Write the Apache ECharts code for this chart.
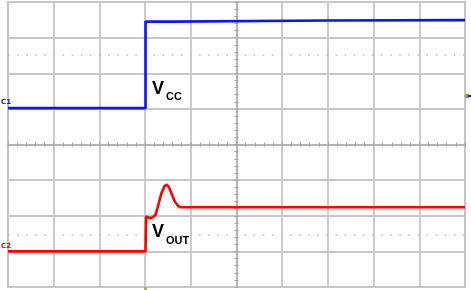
<!DOCTYPE html>
<html>
<head>
<meta charset="utf-8">
<script src="https://cdn.jsdelivr.net/npm/echarts@6/dist/echarts.min.js"></script>
<style>
html,body{margin:0;padding:0;background:#fff;}
#chart{width:471px;height:290px;}
</style>
</head>
<body>
<div id="chart"></div>
<script>
// Oscilloscope capture, units in divisions (x: -5..5, y: -4..4)
var vccTime  = [-5, -1.99, -1.99, -1.4, -1.38, 2, 5];
var vccVolts = [1.02, 1.02, 3.45, 3.45, 3.47, 3.48, 3.49];

var outTime  = [-5, -1.99, -1.98, -1.94, -1.885, -1.83, -1.77, -1.72, -1.644, -1.572, -1.52, -1.477, -1.425, -1.35, -1.28, -1.23, 5];
var outVolts = [-3.0, -3.0, -2.02, -2.0, -2.07, -2.04, -1.97, -1.74, -1.37, -1.16, -1.13, -1.20, -1.37, -1.60, -1.72, -1.76, -1.76];

var cursorLevels = [2.52, -2.52];
var seriesNames = ['VCC', 'VOUT'];

function pairs(xs, ys) { return xs.map(function (x, i) { return [x, ys[i]]; }); }

var gridCol = '#c6c6c6';
var axisCol = '#b4b4b4';
var dotStyle = { color: '#bdbdbd', width: 1.5, type: [1.5, 7.6] };

function xAx(pos, split) {
  return {
    type: 'value', min: -5, max: 5, interval: 1, position: pos,
    axisLabel: { show: false },
    axisLine: { show: true, onZero: true, onZeroAxisIndex: 0, lineStyle: { color: axisCol, width: 1.8 } },
    axisTick: { show: true, length: 2, lineStyle: { color: '#a0a0a0' } },
    minorTick: { show: true, splitNumber: 5, length: 2, lineStyle: { color: '#a0a0a0' } },
    splitLine: { show: split, lineStyle: { color: gridCol, width: 1.8 } }
  };
}
function yAx(pos, split) {
  return {
    type: 'value', min: -4, max: 4, interval: 1, position: pos,
    axisLabel: { show: false },
    axisLine: { show: true, onZero: true, onZeroAxisIndex: 0, lineStyle: { color: axisCol, width: 1.8 } },
    axisTick: { show: true, length: 2, lineStyle: { color: '#a0a0a0' } },
    minorTick: { show: true, splitNumber: 5, length: 2, lineStyle: { color: '#a0a0a0' } },
    splitLine: { show: split, lineStyle: { color: gridCol, width: 1.8 } }
  };
}

var chart = echarts.init(document.getElementById('chart'), null, { renderer: 'canvas' });
chart.setOption({
  animation: false,
  backgroundColor: '#ffffff',
  grid: { left: 8, right: 6, top: 2, bottom: 3, show: true, borderColor: '#b0b0b0', borderWidth: 2, containLabel: false },
  xAxis: [xAx('bottom', true), xAx('top', false)],
  yAxis: [yAx('left', true), yAx('right', false)],
  series: [
    {
      name: seriesNames[0], type: 'line', xAxisIndex: 0, yAxisIndex: 0,
      data: pairs(vccTime, vccVolts), showSymbol: false, symbol: 'none',
      lineStyle: { color: '#0a14ff', width: 2.6 }, z: 5,
      markLine: { silent: true, symbol: 'none', label: { show: false }, lineStyle: dotStyle,
        data: [{ yAxis: cursorLevels[0] }] }
    },
    {
      name: seriesNames[1], type: 'line', xAxisIndex: 0, yAxisIndex: 0,
      data: pairs(outTime, outVolts), showSymbol: false, symbol: 'none',
      lineStyle: { color: '#ff0000', width: 2.6 }, z: 5,
      markLine: { silent: true, symbol: 'none', label: { show: false }, lineStyle: dotStyle,
        data: [{ yAxis: cursorLevels[1] }] }
    }
  ],
  graphic: [
    { type: 'text', left: 152, top: 80, style: { text: 'V', font: 'bold 18px "Liberation Sans", Arial', fill: '#000' }, z: 10 },
    { type: 'text', left: 166, top: 91, style: { text: 'CC', font: 'bold 11px "Liberation Sans", Arial', fill: '#000' }, z: 10 },
    { type: 'text', left: 152, top: 223, style: { text: 'V', font: 'bold 18px "Liberation Sans", Arial', fill: '#000' }, z: 10 },
    { type: 'text', left: 166, top: 235, style: { text: 'OUT', font: 'bold 11px "Liberation Sans", Arial', fill: '#000' }, z: 10 },
    { type: 'text', left: 1, top: 99, style: { text: 'C1', font: 'bold 7px "DejaVu Sans"', fill: '#0a14ff' }, z: 10 },
    { type: 'text', left: 1, top: 243, style: { text: 'C2', font: 'bold 7px "DejaVu Sans"', fill: '#ff0000' }, z: 10 },
    { type: 'rect', left: 465, top: 94, shape: { width: 4, height: 4 }, style: { fill: '#9a9a2a' }, z: 10 },
    { type: 'rect', left: 468, top: 95, shape: { width: 3, height: 2 }, style: { fill: '#0a14ff' }, z: 11 },
    { type: 'rect', left: 144, top: 287, shape: { width: 3, height: 3 }, style: { fill: '#b0b040' }, z: 10 }
  ]
});
</script>
</body>
</html>
